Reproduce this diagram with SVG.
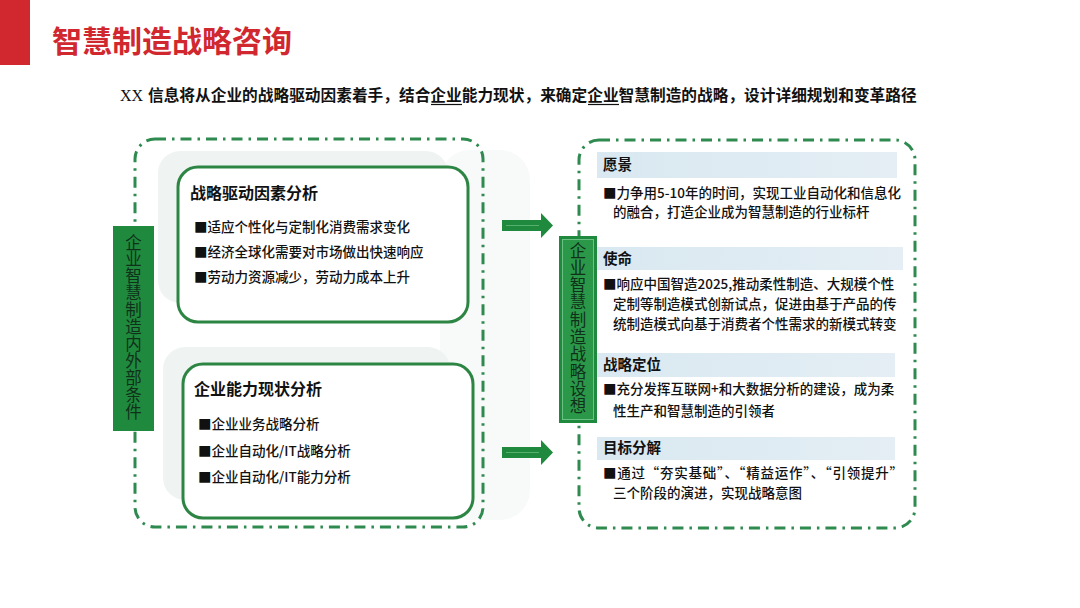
<svg xmlns="http://www.w3.org/2000/svg" width="1080" height="608" viewBox="0 0 1080 608">
<defs>
<style>
.cjk{font-family:"Noto Sans CJK SC","Liberation Sans",sans-serif;fill:#111}
.title{font-size:30px;font-weight:bold;fill:#d1272f}
.sub{font-size:15.7px;font-weight:bold}
.bt{font-size:16px;font-weight:bold}
.it{font-size:13.5px;font-weight:500}
.ht{font-size:14.5px;font-weight:bold}
.vt{font-size:16.5px;fill:#10301a;writing-mode:vertical-rl}
.dash{fill:none;stroke:#2f8a50;stroke-width:3;stroke-dasharray:11 6 2.5 6}
.ibox{fill:#fff;stroke:#2d8543;stroke-width:3}
.band{fill:url(#bandg)}
.arrow{fill:#1f8a3d}
.hl{stroke:#63b97a;stroke-width:1.2;opacity:.8}
</style>
<linearGradient id="bandg" x1="0" x2="1" y1="0" y2="0">
<stop offset="0" stop-color="#d9e8f1"/>
<stop offset="1" stop-color="#e4eef4"/>
</linearGradient>
</defs>
<rect width="1080" height="608" fill="#fff"/>

<g id="header">
<rect x="0" y="0" width="30" height="65" fill="#d0282e"/>
<text class="cjk title" x="52" y="52">智慧制造战略咨询</text>
<text x="120" y="101" font-family="Liberation Serif,serif" font-size="16" fill="#111">XX</text>
<text class="cjk sub" x="148" y="101">信息将从企业的战略驱动因素着手，结合企业能力现状，来确定企业智慧制造的战略，设计详细规划和变革路径</text>
<line x1="431" y1="104.5" x2="462" y2="104.5" stroke="#111" stroke-width="1.2"/>
<line x1="588" y1="104.5" x2="619" y2="104.5" stroke="#111" stroke-width="1.2"/>
</g>

<g id="background">
<rect x="440" y="150" width="90" height="370" rx="30" fill="#f8f9f9"/>
<rect x="158" y="151" width="290" height="152" rx="22" fill="#eff4f2"/>
<rect x="163" y="347" width="287" height="153" rx="22" fill="#eff4f2"/>
</g>

<g id="left-frame">
<rect class="dash" x="135" y="139" width="348" height="388" rx="20"/>
</g>

<g id="left-label">
<rect x="113" y="226" width="41" height="205" fill="#1f8a3d"/>
<text class="cjk vt" x="133.5" y="234" letter-spacing="0.4">企业智慧制造内外部条件</text>
</g>

<g id="drivers">
<rect class="ibox" x="178" y="167" width="290" height="155" rx="20"/>
<text class="cjk bt" x="190" y="199">战略驱动因素分析</text>
<text class="cjk it" x="194" y="232">■适应个性化与定制化消费需求变化</text>
<text class="cjk it" x="194" y="257">■经济全球化需要对市场做出快速响应</text>
<text class="cjk it" x="194" y="282">■劳动力资源减少，劳动力成本上升</text>
</g>

<g id="capability">
<rect class="ibox" x="183" y="364" width="290" height="154" rx="20"/>
<text class="cjk bt" x="194" y="395">企业能力现状分析</text>
<text class="cjk it" x="198" y="429">■企业业务战略分析</text>
<text class="cjk it" x="198" y="456">■企业自动化/IT战略分析</text>
<text class="cjk it" x="198" y="482">■企业自动化/IT能力分析</text>
</g>

<g id="connectors">
<polygon class="arrow" points="502,220 541,220 541,213 553,225.5 541,238 541,231 502,231"/>
<line class="hl" x1="506" y1="225.5" x2="539" y2="225.5"/>
<polygon class="arrow" points="502,447 541,447 541,440 553,452.5 541,465 541,458 502,458"/>
<line class="hl" x1="506" y1="452.5" x2="539" y2="452.5"/>
</g>

<g id="right-frame">
<rect class="dash" x="579" y="140" width="336" height="388" rx="20"/>
</g>

<g id="right-label">
<rect x="559" y="236" width="38" height="187" fill="#1f8a3d"/>
<rect x="562.5" y="239.5" width="31" height="180" fill="#2a9848" stroke="#6cc184" stroke-width="1"/>
<text class="cjk vt" x="578" y="242" letter-spacing="0.8">企业智慧制造战略设想</text>
</g>

<g id="vision">
<rect class="band" x="597" y="152" width="300" height="26"/>
<text class="cjk ht" x="603" y="170">愿景</text>
<text class="cjk it" x="603" y="198">■力争用5-10年的时间，实现工业自动化和信息化</text>
<text class="cjk it" x="613" y="217">的融合，打造企业成为智慧制造的行业标杆</text>
</g>

<g id="mission">
<rect class="band" x="597" y="247" width="306" height="23"/>
<text class="cjk ht" x="603" y="264">使命</text>
<text class="cjk it" x="603" y="289">■响应中国智造2025,推动柔性制造、大规模个性</text>
<text class="cjk it" x="613" y="309">定制等制造模式创新试点，促进由基于产品的传</text>
<text class="cjk it" x="613" y="329">统制造模式向基于消费者个性需求的新模式转变</text>
</g>

<g id="positioning">
<rect class="band" x="597" y="353" width="298" height="24"/>
<text class="cjk ht" x="603" y="370">战略定位</text>
<text class="cjk it" x="603" y="394">■充分发挥互联网+和大数据分析的建设，成为柔</text>
<text class="cjk it" x="613" y="416">性生产和智慧制造的引领者</text>
</g>

<g id="goals">
<rect class="band" x="597" y="437" width="298" height="23"/>
<text class="cjk ht" x="603" y="453">目标分解</text>
<text class="cjk it" x="603" y="478" textLength="300" lengthAdjust="spacing">■通过“夯实基础”、“精益运作”、“引领提升”</text>
<text class="cjk it" x="613" y="498">三个阶段的演进，实现战略意图</text>
</g>
</svg>
